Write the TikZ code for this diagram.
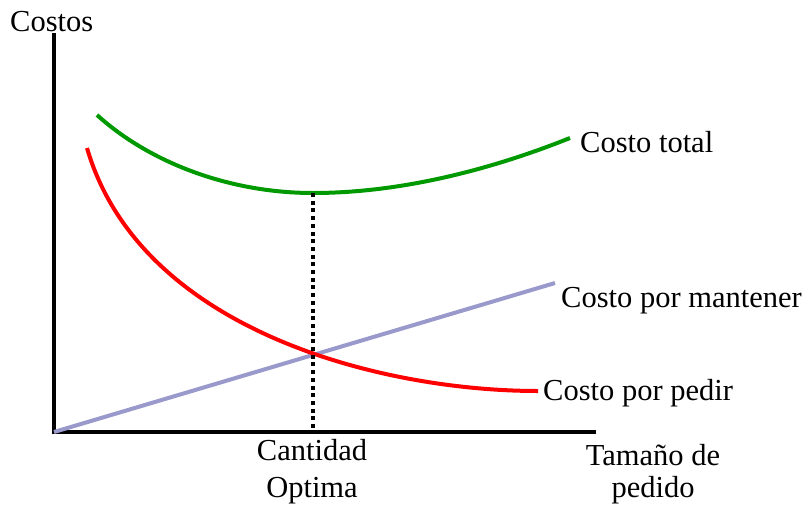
\documentclass[tikz,border=0pt]{standalone}
\usepackage{fontspec}
\setmainfont{Liberation Serif}
\definecolor{totalgreen}{HTML}{009900}
\definecolor{pedirred}{HTML}{FF0000}
\definecolor{mantlav}{HTML}{9999CC}
\tikzset{
  axisline/.style={line width=4.2pt, black, line join=miter},
  curveline/.style={line width=4pt, line cap=butt},
  lbl/.style={inner sep=0pt, font=\fontsize{30.5}{35}\selectfont},
  optline/.style={line width=3.4pt, black, dash pattern=on 4pt off 3.7pt}
}
\begin{document}
\begin{tikzpicture}[x=1pt,y=-1pt]
\useasboundingbox (0,0) rectangle (810,511);
% axes
\coordinate (ytop) at (54,33);
\coordinate (o) at (54,432);
\coordinate (xend) at (596,432);
\draw[axisline] (ytop) -- (o) -- (xend);
% holding cost line
\coordinate (mend) at (555,283);
\draw[curveline, mantlav] (o) -- (mend);
% ordering cost curve
\coordinate (pstart) at (87,148);
\coordinate (pend) at (538,391);
\draw[curveline, pedirred] (pstart) .. controls (140,330) and (380,391) .. (pend);
% total cost curve
\coordinate (tstart) at (97,115);
\coordinate (opt) at (313,193);
\coordinate (tend) at (570,138);
\draw[curveline, totalgreen] (tstart) .. controls (150,163) and (230,193) .. (opt)
  .. controls (400,193) and (490,170) .. (tend);
% optimum
\coordinate (optbase) at (313,432);
\draw[optline] (opt) -- (optbase);
% labels
\node[lbl, anchor=base west] (costos) at (10,32) {Costos};
\node[lbl, anchor=base west] (ltotal) at (580,152) {Costo total};
\node[lbl, anchor=base west] (lmant) at (561,307) {Costo por mantener};
\node[lbl, anchor=base west] (lpedir) at (543,400) {Costo por pedir};
\node[lbl, anchor=base] (cant1) at (312,460) {Cantidad};
\node[lbl, anchor=base] (cant2) at (312,497) {Optima};
\node[lbl, anchor=base] (tam1) at (653,465) {Tamaño de};
\node[lbl, anchor=base] (tam2) at (653,497) {pedido};
\end{tikzpicture}
\end{document}
